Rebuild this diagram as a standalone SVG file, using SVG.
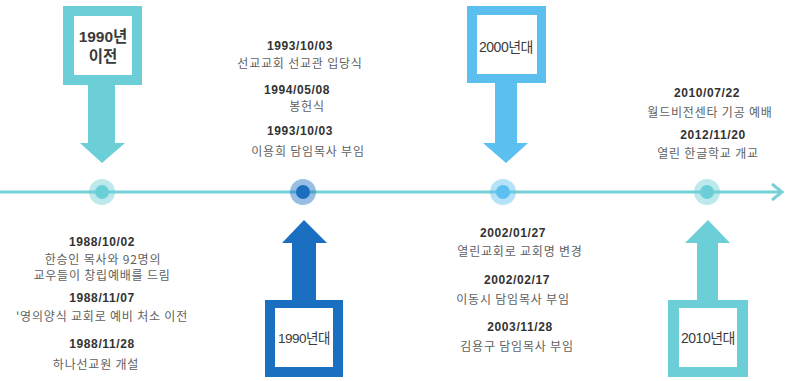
<svg xmlns="http://www.w3.org/2000/svg" width="793" height="381" viewBox="0 0 793 381">
<style>
.date{font-family:"Liberation Sans","Noto Sans CJK KR",sans-serif;font-size:12px;font-weight:bold;fill:#333;text-anchor:middle;letter-spacing:0.6px}
.desc{font-family:"Noto Sans CJK KR","Liberation Sans",sans-serif;font-size:12px;fill:#5f5f5f;text-anchor:middle;letter-spacing:0.8px}
.lbl{font-family:"Liberation Sans","Noto Sans CJK KR",sans-serif;fill:#3a3a3a;text-anchor:middle}
.teal{fill:#6ccfd7}
.lblue{fill:#5bbff0}
.dblue{fill:#1b6fc1}
</style>
<rect width="793" height="381" fill="#fff"/>
<g id="connectors">
<line x1="0" y1="192" x2="782" y2="192" stroke="#76d0d8" stroke-width="3"/>
<polyline points="772,184 782,192 772,200" fill="none" stroke="#76d0d8" stroke-width="3"/>
</g>
<g id="dot-1988">
<circle cx="102" cy="192" r="13" fill="#6ccfd7" opacity="0.45"/>
<circle cx="102" cy="192" r="7" fill="#6ccfd7"/>
</g>
<g id="dot-1993">
<circle cx="303" cy="192" r="13" fill="#1b6fc1" opacity="0.45"/>
<circle cx="303" cy="192" r="7" fill="#1b6fc1"/>
</g>
<g id="dot-2002">
<circle cx="503" cy="192" r="13" fill="#5bbff0" opacity="0.45"/>
<circle cx="503" cy="192" r="7" fill="#5bbff0"/>
</g>
<g id="dot-2010">
<circle cx="707" cy="192" r="13" fill="#6ccfd7" opacity="0.45"/>
<circle cx="707" cy="192" r="7" fill="#6ccfd7"/>
</g>
<g id="arrow-before1990">
<path class="teal" fill-rule="evenodd" d="M63,6H142V85H63Z M74,16V75H132V16Z"/>
<path class="teal" d="M88,85H115V143H125L102,163L80,143H88Z"/>
<text class="lbl" x="103" y="42" font-size="15.5" font-weight="bold">1990년</text>
<text class="lbl" x="103" y="62" font-size="15.5" font-weight="bold">이전</text>
</g>
<g id="arrow-1990s">
<path class="dblue" fill-rule="evenodd" d="M265,300H343V377H265Z M275,308V367H333V308Z"/>
<path class="dblue" d="M304,220L327,243H316V300H292V243H282Z"/>
<text class="lbl" x="304" y="343" font-size="13.5" letter-spacing="-0.5">1990년대</text>
</g>
<g id="arrow-2000s">
<path class="lblue" fill-rule="evenodd" d="M467,6H546V83H467Z M477,15V74H537V15Z"/>
<path class="lblue" d="M495,83H517V143H528L506,163L483,143H495Z"/>
<text class="lbl" x="506" y="52" font-size="14" letter-spacing="-0.5">2000년대</text>
</g>
<g id="arrow-2010s">
<path class="teal" fill-rule="evenodd" d="M668,300H748V377H668Z M679,308V367H737V308Z"/>
<path class="teal" d="M708,220L730,243H718V300H697V243H685Z"/>
<text class="lbl" x="708" y="343" font-size="14" letter-spacing="-0.5">2010년대</text>
</g>
<g id="events-1993">
<text class="date" x="300" y="50">1993/10/03</text>
<text class="desc" x="300" y="68">선교교회 선교관 입당식</text>
<text class="date" x="297" y="94">1994/05/08</text>
<text class="desc" x="307" y="111">봉헌식</text>
<text class="date" x="300" y="135">1993/10/03</text>
<text class="desc" x="308" y="156">이용희 담임목사 부임</text>
</g>
<g id="events-2010">
<text class="date" x="707" y="97">2010/07/22</text>
<text class="desc" x="710" y="117">월드비전센타 기공 예배</text>
<text class="date" x="713" y="139">2012/11/20</text>
<text class="desc" x="708" y="158">열린 한글학교 개교</text>
</g>
<g id="events-1988">
<text class="date" x="102" y="246">1988/10/02</text>
<text class="desc" x="103" y="264">한승인 목사와 92명의</text>
<text class="desc" x="102" y="280">교우들이 창립예배를 드림</text>
<text class="date" x="102" y="302">1988/11/07</text>
<text class="desc" x="102" y="321">'영의양식 교회로 예비 처소 이전</text>
<text class="date" x="102" y="348">1988/11/28</text>
<text class="desc" x="96" y="369">하나선교원 개설</text>
</g>
<g id="events-2002">
<text class="date" x="513" y="237">2002/01/27</text>
<text class="desc" x="520" y="256">열린교회로 교회명 변경</text>
<text class="date" x="517" y="284">2002/02/17</text>
<text class="desc" x="513" y="304">이동시 담임목사 부임</text>
<text class="date" x="520" y="331">2003/11/28</text>
<text class="desc" x="517" y="351">김용구 담임목사 부임</text>
</g>
</svg>
